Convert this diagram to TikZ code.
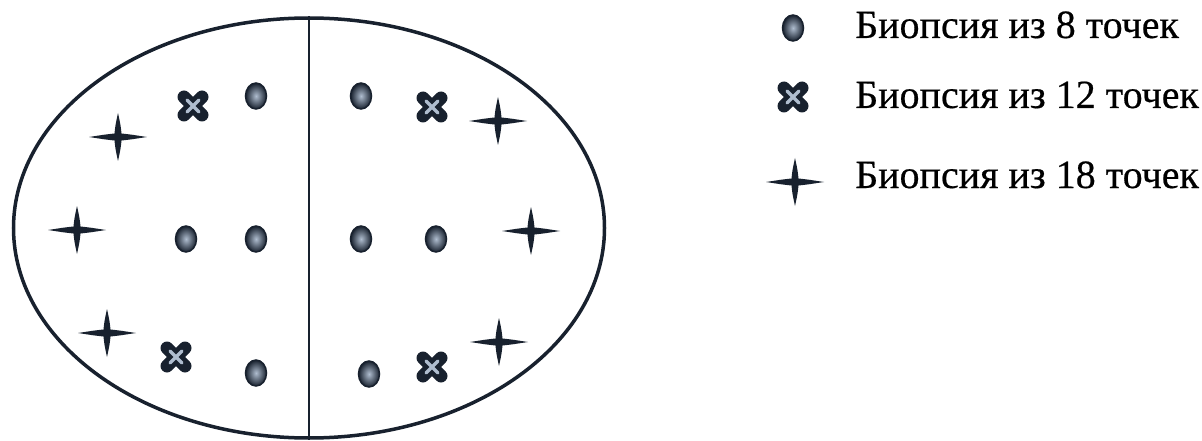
\documentclass[tikz,border=0pt]{standalone}
\usepackage{fontspec}
\setmainfont{Liberation Serif}
\newfontfamily\cyrserif[FakeBold=0.5]{Liberation Serif}
\usetikzlibrary{shapes.geometric}

\definecolor{encre}{HTML}{18212E}
\definecolor{reflet}{HTML}{AFBDCF}

\tikzset{
  biopsie/.style={font=\cyrserif\fontsize{40}{44}\selectfont, anchor=base west, inner sep=0pt},
  % marqueurs des trois schémas
  point8/.pic={\shade[inner color=reflet, outer color=encre, draw=encre, line width=1.5] (0,0) ellipse (10.5 and 13);},
  croix12/.pic={
    \draw[encre, line width=13, line cap=round] (-9,-9) -- (9,9) (-9,9) -- (9,-9);
    \draw[reflet, line width=3.5, line cap=round] (-6,-6) -- (6,6) (-6,6) -- (6,-6);},
  etoile18/.pic={
    \fill[encre] (-29,0) .. controls (-12,-2.6) .. (-3.5,-3.5)
      .. controls (-2.6,-12) .. (0,-24) .. controls (2.6,-12) .. (3.5,-3.5)
      .. controls (12,-2.6) .. (29,0) .. controls (12,2.6) .. (3.5,3.5)
      .. controls (2.6,12) .. (0,24) .. controls (-2.6,12) .. (-3.5,3.5)
      .. controls (-12,2.6) .. (-29,0) -- cycle;},
}

\begin{document}
\begin{tikzpicture}[x=1pt,y=-1pt]
\useasboundingbox (0,0) rectangle (1202,441);

%prostate
\node[ellipse, draw=encre, line width=3.5, minimum width=591, minimum height=420, inner sep=0pt] (prostate) at (309,228) {};
\draw[encre, line width=2] (prostate.north) -- (prostate.south);

%8 points
\foreach \x/\y in {256/96, 361/96, 186/239, 256/239, 361/239, 436/239, 256/373, 369/374}
  \pic at (\x,\y) {point8};
%12 points
\foreach \x/\y in {193/106, 432/107, 176/357, 432/367}
  \pic at (\x,\y) {croix12};
%18 points
\foreach \x/\y in {118/137, 498/121, 77/230, 531/231, 107/333, 499/342}
  \pic at (\x,\y) {etoile18};

%légende
\pic at (793,28) {point8};
\node[biopsie] (l8) at (855,38) {Биопсия из 8 точек};
\pic at (793,97) {croix12};
\node[biopsie] (l12) at (855,108) {Биопсия из 12 точек};
\pic at (795,182) {etoile18};
\node[biopsie] (l18) at (855,188) {Биопсия из 18 точек};

\end{tikzpicture}
\end{document}
